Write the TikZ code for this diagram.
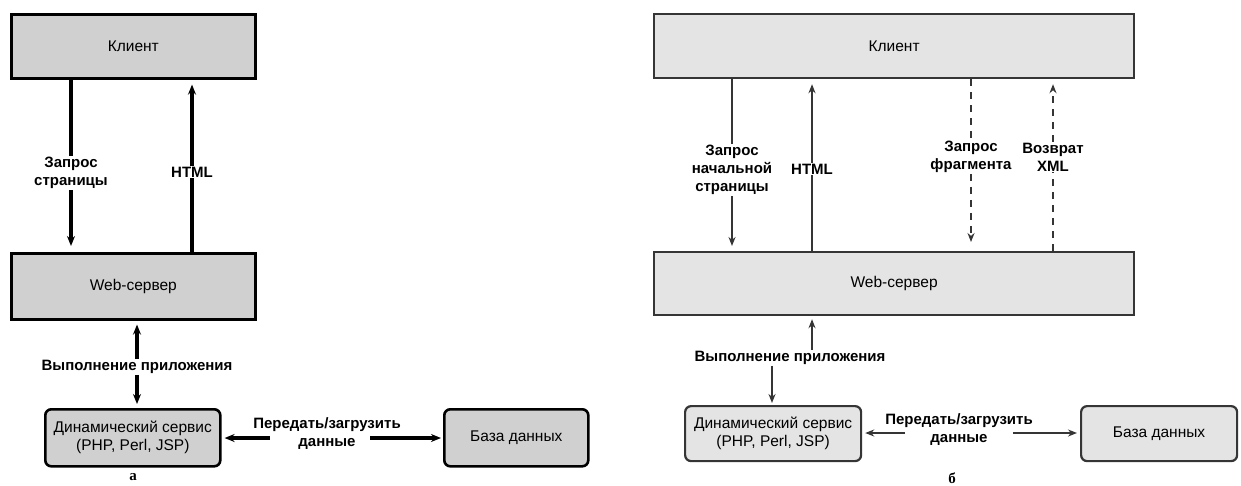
\documentclass[tikz,border=0pt]{standalone}
\usepackage{fontspec}
\setmainfont{Liberation Sans}
\newfontfamily\lblf{Liberation Sans}
\newfontfamily\capf{Liberation Serif}
\usetikzlibrary{arrows.meta,calc}
\definecolor{fillA}{HTML}{D0D0D0}
\definecolor{fillB}{HTML}{E4E4E4}
\definecolor{edgeB}{HTML}{353535}
\begin{document}
\begin{tikzpicture}[x=1pt,y=-1pt,
  boxA/.style={draw=black, fill=fillA, line width=2.6pt, inner sep=0pt, anchor=north west,
    font=\fontsize{15.5}{18}\selectfont, align=center},
  boxB/.style={draw=edgeB, fill=fillB, line width=2.2pt, inner sep=0pt, anchor=north west,
    font=\fontsize{15.5}{18}\selectfont, align=center},
  rnd/.style={rounded corners=6pt},
  lbl/.style={font=\lblf\bfseries\fontsize{15}{18}\selectfont, align=center, inner sep=1pt},
  captxt/.style={font=\capf\bfseries\fontsize{15}{15}\selectfont, inner sep=0pt},
  lnA/.style={draw=black, line width=3.1pt},
  arrA/.style={lnA, -{Stealth[length=10pt,width=8pt]}},
  lnB/.style={draw=edgeB, line width=2.8pt},
  arrB/.style={lnB, -{Stealth[length=9pt,width=7pt]}},
  dashB/.style={dash pattern=on 7pt off 6pt}
]
\useasboundingbox (0,0) rectangle (1241,485);

% ---------- (a) ----------
\node[boxA, minimum width=244pt, minimum height=64pt] (clA) at (10,13) {Клиент};
\node[boxA, minimum width=244pt, minimum height=66pt] (wsA) at (10,252) {Web-сервер};
\node[boxA, rnd, minimum width=175pt, minimum height=57pt] (dyA) at (44,408) {Динамический сервис\\(PHP, Perl, JSP)};
\node[boxA, rnd, minimum width=144pt, minimum height=57pt] (dbA) at (443,408) {База данных};

\node[lbl] (rqA) at (71,173) {Запрос\\страницы};
\node[lbl] (htA) at (192,172) {HTML};
\node[lbl] (exA) at (137,367) {Выполнение приложения};
\node[lbl] (trA) at (327,434) {Передать/загрузить\\данные};
\node[captxt] (capA) at (133,477) {а};

\draw[lnA] (clA.south -| rqA.north) -- (rqA.north);
\draw[arrA, shorten >=6pt] (rqA.south) -- (wsA.north -| rqA.south);
\draw[arrA, shorten >=5pt] (htA.north) -- (clA.south -| htA.north);
\draw[lnA] (wsA.north -| htA.south) -- (htA.south);
\draw[arrA, shorten >=4pt] (exA.north) -- (wsA.south -| exA.north);
\draw[arrA, shorten >=4pt] (exA.south) -- (dyA.north -| exA.south);
\coordinate (trAl) at ($(trA.center)+(-57,4)$);
\coordinate (trAr) at ($(trA.center)+(43,4)$);
\draw[arrA, shorten >=3pt] (trAl) -- (trAl -| dyA.east);
\draw[arrA, shorten >=2pt] (trAr) -- (trAr -| dbA.west);

% ---------- (б) ----------
\node[boxB, minimum width=480pt, minimum height=64pt] (clB) at (653,13) {Клиент};
\node[boxB, minimum width=480pt, minimum height=63pt] (wsB) at (653,251) {Web-сервер};
\node[boxB, rnd, minimum width=176pt, minimum height=55pt] (dyB) at (684,405) {Динамический сервис\\(PHP, Perl, JSP)};
\node[boxB, rnd, minimum width=156pt, minimum height=55pt] (dbB) at (1080,405) {База данных};

\node[lbl] (rqB) at (732,170) {Запрос\\начальной\\страницы};
\node[lbl] (htB) at (812,169) {HTML};
\node[lbl] (frB) at (971,157) {Запрос\\фрагмента};
\node[lbl] (xmB) at (1053,157) {Возврат\\XML};
\node[lbl] (exB) at (790,358) {Выполнение приложения};
\node[lbl] (trB) at (959,430) {Передать/загрузить\\данные};
\node[captxt] (capB) at (952,478) {б};

\draw[lnB] (clB.south -| rqB.north) -- (rqB.north);
\draw[arrB, shorten >=5pt] (rqB.south) -- (wsB.north -| rqB.south);
\draw[arrB, shorten >=5pt] (htB.north) -- (clB.south -| htB.north);
\draw[lnB] (wsB.north -| htB.south) -- (htB.south);
\draw[lnB, dashB] (clB.south -| frB.north) -- (frB.north);
\draw[arrB, dashB, shorten >=9pt] (frB.south) -- (wsB.north -| frB.south);
\draw[lnB, dashB] (wsB.north -| xmB.south) -- (xmB.south);
\draw[arrB, dashB, shorten >=5pt] (xmB.north) -- (clB.south -| xmB.north);
\draw[arrB, shorten >=3pt] ([xshift=22pt]exB.north) -- ([xshift=22pt]exB.north |- wsB.south);
\draw[arrB, shorten >=2pt] ([xshift=-18pt]exB.south) -- ([xshift=-18pt]exB.south |- dyB.north);
\coordinate (trBl) at ($(trB.center)+(-54,3)$);
\coordinate (trBr) at ($(trB.center)+(54,3)$);
\draw[arrB, shorten >=3pt] (trBl) -- (trBl -| dyB.east);
\draw[arrB, shorten >=3pt] (trBr) -- (trBr -| dbB.west);
\end{tikzpicture}
\end{document}
